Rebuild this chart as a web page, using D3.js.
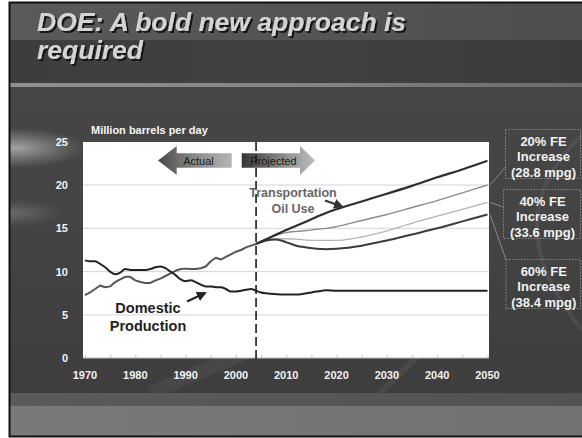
<!DOCTYPE html>
<html>
<head>
<meta charset="utf-8">
<script src="https://cdn.jsdelivr.net/npm/d3@7"></script>
<style>
  html, body { margin: 0; padding: 0; background: #ffffff; }
  svg { display: block; }
  text { font-family: "Liberation Sans", Arial, Helvetica, sans-serif; }
</style>
</head>
<body>
<svg id="chart" width="582" height="438"></svg>
<script>
// ---------------- DATA ----------------
const titleLines = ["DOE: A bold new approach is", "required"];
const unitLabel = "Million barrels per day";
const yTicks = [0, 5, 10, 15, 20, 25];
const xTicks = [1970, 1980, 1990, 2000, 2010, 2020, 2030, 2040, 2050];
const minorXTicks = [1975, 1985, 1995, 2005, 2015, 2025, 2035, 2045];
const dividerYear = 2004;

const domesticYears = [1970,1971,1972,1973,1974,1975,1976,1977,1978,1979,1980,1981,1982,1983,1984,1985,1986,1987,1988,1989,1990,1991,1992,1993,1994,1995,1996,1997,1998,1999,2000,2001,2002,2003,2004,2005,2006,2008,2010,2012,2014,2016,2018,2020,2025,2030,2040,2050];
const domesticValues = [11.3,11.2,11.2,10.9,10.5,10.0,9.7,9.9,10.3,10.2,10.2,10.2,10.2,10.3,10.5,10.6,10.4,10.0,9.6,9.1,8.9,9.0,8.8,8.5,8.3,8.3,8.2,8.2,8.0,7.7,7.7,7.8,7.9,8.0,7.8,7.6,7.5,7.4,7.35,7.35,7.5,7.7,7.85,7.8,7.8,7.8,7.8,7.8];

const transHistYears = [1970,1971,1972,1973,1974,1975,1976,1977,1978,1979,1980,1981,1982,1983,1984,1985,1986,1987,1988,1989,1990,1991,1992,1993,1994,1995,1996,1997,1998,1999,2000,2001,2002,2003,2004];
const transHistValues = [7.3,7.6,8.0,8.4,8.2,8.3,8.8,9.1,9.4,9.4,9.0,8.8,8.7,8.7,9.0,9.2,9.5,9.8,10.1,10.3,10.35,10.3,10.3,10.4,10.6,11.2,11.6,11.4,11.7,12.0,12.3,12.5,12.8,13.0,13.2];

const projYears = [2004,2006,2008,2010,2012,2014,2016,2018,2020,2025,2030,2035,2040,2045,2050];
const projBaseValues = [13.2,13.7,14.3,14.8,15.3,15.8,16.3,16.8,17.2,18.1,19.0,19.9,20.9,21.8,22.8];
const proj20Values   = [13.2,13.8,14.2,14.5,14.65,14.75,14.9,15.0,15.2,15.9,16.6,17.4,18.2,19.1,20.0];
const proj40Values   = [13.2,13.6,13.8,13.8,13.75,13.65,13.6,13.6,13.6,14.0,14.7,15.6,16.4,17.2,18.0];
const proj60Values   = [13.2,13.6,13.7,13.4,13.0,12.8,12.65,12.6,12.65,13.0,13.6,14.3,15.0,15.8,16.6];

const boxLabels = [
  ["20% FE", "Increase", "(28.8 mpg)"],
  ["40% FE", "Increase", "(33.6 mpg)"],
  ["60% FE", "Increase", "(38.4 mpg)"]
];
const arrowLabels = ["Actual", "Projected"];
const transLabel = ["Transportation", "Oil Use"];
const domesticLabel = ["Domestic", "Production"];

// ---------------- LAYOUT ----------------
const svg = d3.select("#chart");
const plot = {left: 83, right: 489, top: 142, bottom: 358};
const x = d3.scaleLinear().domain([1970, 2050]).range([85, 487.5]);
const y = d3.scaleLinear().domain([0, 25]).range([358.3, 141.7]);

const defs = svg.append("defs");

function linGrad(id, x1, y1, x2, y2, stops) {
  const g = defs.append("linearGradient").attr("id", id)
    .attr("x1", x1).attr("y1", y1).attr("x2", x2).attr("y2", y2);
  stops.forEach(s => g.append("stop").attr("offset", s[0]).attr("stop-color", s[1]).attr("stop-opacity", s[2] === undefined ? 1 : s[2]));
}
function radGrad(id, stops) {
  const g = defs.append("radialGradient").attr("id", id);
  stops.forEach(s => g.append("stop").attr("offset", s[0]).attr("stop-color", s[1]).attr("stop-opacity", s[2]));
}

linGrad("topBand", "0", "0", "1", "0", [[0, "#5a5a5a"], [0.6, "#535353"], [1, "#4e4e4e"]]);
linGrad("titleBand", "0", "0", "1", "0", [[0, "#3d3d3d"], [0.5, "#414141"], [1, "#3b3b3b"]]);
linGrad("stripe", "0", "0", "1", "0", [[0, "#8f8f8f"], [0.5, "#858585"], [1, "#6a6a6a"]]);
linGrad("mainBg", "0", "0", "0", "1", [[0, "#474747"], [0.5, "#444444"], [1, "#3c3c3c"]]);
linGrad("band1", "0", "0", "1", "0", [[0, "#5b5b5b"], [1, "#525252"]]);
linGrad("band2", "0", "0", "1", "0", [[0, "#797979"], [1, "#727272"]]);
linGrad("actualArrow", "0", "0", "1", "0", [[0, "#4a4a4a"], [0.5, "#8a8a8a"], [1, "#b5b5b5"]]);
linGrad("projArrow", "0", "0", "1", "0", [[0, "#353535"], [0.55, "#8a8a8a"], [1, "#bdbdbd"]]);
radGrad("glow", [[0, "#ffffff", 0.5], [0.6, "#ffffff", 0.18], [1, "#ffffff", 0]]);

const shadow = defs.append("filter").attr("id", "tshadow").attr("x", "-5%").attr("y", "-20%").attr("width", "115%").attr("height", "160%");
shadow.append("feDropShadow").attr("dx", 2).attr("dy", 2).attr("stdDeviation", 0.6).attr("flood-color", "#151515").attr("flood-opacity", 1);

// slide background
svg.append("rect").attr("x", 9).attr("y", 2).attr("width", 573).attr("height", 434).attr("fill", "url(#mainBg)");
svg.append("rect").attr("x", 9).attr("y", 2).attr("width", 573).attr("height", 38).attr("fill", "url(#topBand)");
svg.append("rect").attr("x", 9).attr("y", 40).attr("width", 573).attr("height", 43).attr("fill", "url(#titleBand)");
svg.append("rect").attr("x", 9).attr("y", 83).attr("width", 573).attr("height", 4).attr("fill", "url(#stripe)");
// left glows
svg.append("ellipse").attr("cx", 15).attr("cy", 148).attr("rx", 70).attr("ry", 20).attr("fill", "url(#glow)");
svg.append("ellipse").attr("cx", 10).attr("cy", 213).attr("rx", 55).attr("ry", 14).attr("fill", "url(#glow)").attr("opacity", 0.4);
// faint right swoosh
svg.append("path").attr("d", "M582,135 Q492,220 582,330").attr("fill", "none").attr("stroke", "#ffffff").attr("stroke-opacity", 0.06).attr("stroke-width", 4);
// faint bottom streaks
svg.append("path").attr("d", "M150,393 L300,330").attr("stroke", "#ffffff").attr("stroke-opacity", 0.05).attr("stroke-width", 14);
svg.append("path").attr("d", "M380,393 L445,330").attr("stroke", "#ffffff").attr("stroke-opacity", 0.06).attr("stroke-width", 6);
// bottom bands
svg.append("rect").attr("x", 9).attr("y", 393).attr("width", 573).attr("height", 13).attr("fill", "url(#band1)");
svg.append("rect").attr("x", 9).attr("y", 406).attr("width", 573).attr("height", 30).attr("fill", "url(#band2)");
// frame
svg.append("path").attr("d", "M582,2.5 L9.5,2.5 L9.5,436.5 L582,436.5").attr("fill", "none").attr("stroke", "#111").attr("stroke-width", 2);

// title with drop shadow
const titleG = svg.append("g").attr("font-size", 26.5).attr("font-weight", "bold").attr("font-style", "italic").attr("filter", "url(#tshadow)");
titleLines.forEach((t, i) => {
  titleG.append("text").attr("x", 37).attr("y", 31 + i * 28).attr("fill", "#d4d4d4").text(t);
});

// plot area
svg.append("rect").attr("x", plot.left).attr("y", plot.top).attr("width", plot.right - plot.left).attr("height", plot.bottom - plot.top).attr("fill", "#ffffff");

// gridlines
svg.append("g").selectAll("line").data(yTicks.filter(d => d > 0 && d < 25)).join("line")
  .attr("x1", plot.left).attr("x2", plot.right)
  .attr("y1", d => y(d)).attr("y2", d => y(d))
  .attr("stroke", "#d4d4d4").attr("stroke-width", 1);

// x axis line + ticks
const xAxisG = svg.append("g").attr("transform", `translate(0,${plot.bottom})`)
  .call(d3.axisBottom(x).tickValues(xTicks.concat(minorXTicks)).tickSize(-3).tickFormat(""));
xAxisG.select(".domain").attr("stroke", "#bbbbbb").attr("d", `M${plot.left},0H${plot.right}`);
xAxisG.selectAll(".tick line").attr("stroke", "#c0c0c0");

// tick labels
svg.append("g").selectAll("text").data(xTicks).join("text")
  .attr("x", d => x(d)).attr("y", 379).attr("text-anchor", "middle")
  .attr("font-size", 11).attr("font-weight", "bold").attr("fill", "#f2f2f2").text(d => d);
svg.append("g").selectAll("text").data(yTicks).join("text")
  .attr("x", 68).attr("y", d => y(d) + 4).attr("text-anchor", "end")
  .attr("font-size", 11).attr("font-weight", "bold").attr("fill", "#f2f2f2").text(d => d);

svg.append("text").attr("x", 91).attr("y", 134).attr("font-size", 11).attr("font-weight", "bold").attr("fill", "#f5f5f5").text(unitLabel);

// Actual / Projected arrows
const aTip = 158, aHead = 176.7, aEnd = 231.7, cy = 160.5;
svg.append("path").attr("d", `M${aTip},${cy} L${aHead},146 L${aHead},153.3 L${aEnd},153.3 L${aEnd},167.7 L${aHead},167.7 L${aHead},175 Z`).attr("fill", "url(#actualArrow)");
const pStart = 241.7, pHead = 300, pTip = 315;
svg.append("path").attr("d", `M${pStart},153.3 L${pHead},153.3 L${pHead},146 L${pTip},${cy} L${pHead},175 L${pHead},167.7 L${pStart},167.7 Z`).attr("fill", "url(#projArrow)");
svg.append("text").attr("x", 198.5).attr("y", 164.5).attr("text-anchor", "middle").attr("font-size", 11).attr("fill", "#1a1a1a").text(arrowLabels[0]);
svg.append("text").attr("x", 273.5).attr("y", 164.5).attr("text-anchor", "middle").attr("font-size", 11).attr("fill", "#1a1a1a").text(arrowLabels[1]);

// divider dashed line
svg.append("line").attr("x1", x(dividerYear)).attr("x2", x(dividerYear)).attr("y1", plot.top).attr("y2", 363)
  .attr("stroke", "#1a1a1a").attr("stroke-width", 1.6).attr("stroke-dasharray", "9,4");

// series lines
const lineLinear = d3.line().x(d => x(d[0])).y(d => y(d[1]));
const lineSmooth = d3.line().x(d => x(d[0])).y(d => y(d[1])).curve(d3.curveMonotoneX);
const zip = (a, b) => a.map((v, i) => [v, b[i]]);

svg.append("path").datum(zip(projYears, proj20Values)).attr("d", lineSmooth).attr("fill", "none").attr("stroke", "#8c8c8c").attr("stroke-width", 1.4);
svg.append("path").datum(zip(projYears, proj40Values)).attr("d", lineSmooth).attr("fill", "none").attr("stroke", "#b4b4b4").attr("stroke-width", 1.3);
svg.append("path").datum(zip(projYears, proj60Values)).attr("d", lineSmooth).attr("fill", "none").attr("stroke", "#3c3c3c").attr("stroke-width", 2);
svg.append("path").datum(zip(projYears, projBaseValues)).attr("d", lineSmooth).attr("fill", "none").attr("stroke", "#2e2e2e").attr("stroke-width", 2.2);
svg.append("path").datum(zip(transHistYears, transHistValues)).attr("d", lineLinear).attr("fill", "none").attr("stroke", "#555555").attr("stroke-width", 2).attr("stroke-linejoin", "round");
svg.append("path").datum(zip(domesticYears, domesticValues)).attr("d", lineSmooth).attr("fill", "none").attr("stroke", "#222222").attr("stroke-width", 2).attr("stroke-linejoin", "round");

// annotations
defs.append("marker").attr("id", "ah").attr("viewBox", "0 0 10 10").attr("refX", 8).attr("refY", 5)
  .attr("markerWidth", 5).attr("markerHeight", 5).attr("orient", "auto")
  .append("path").attr("d", "M0,0 L10,5 L0,10 Z").attr("fill", "#333");
defs.append("marker").attr("id", "ah2").attr("viewBox", "0 0 10 10").attr("refX", 8).attr("refY", 5)
  .attr("markerWidth", 5).attr("markerHeight", 5).attr("orient", "auto")
  .append("path").attr("d", "M0,0 L10,5 L0,10 Z").attr("fill", "#222");

svg.append("text").attr("x", 293).attr("y", 197).attr("text-anchor", "middle").attr("font-size", 12.5).attr("font-weight", "bold").attr("fill", "#666").text(transLabel[0]);
svg.append("text").attr("x", 293).attr("y", 213).attr("text-anchor", "middle").attr("font-size", 12.5).attr("font-weight", "bold").attr("fill", "#666").text(transLabel[1]);
svg.append("line").attr("x1", 325).attr("y1", 200.5).attr("x2", 342).attr("y2", 206.5).attr("stroke", "#333").attr("stroke-width", 2).attr("marker-end", "url(#ah)");

svg.append("text").attr("x", 148).attr("y", 313).attr("text-anchor", "middle").attr("font-size", 14.5).attr("font-weight", "bold").attr("fill", "#222").text(domesticLabel[0]);
svg.append("text").attr("x", 148).attr("y", 331).attr("text-anchor", "middle").attr("font-size", 14.5).attr("font-weight", "bold").attr("fill", "#222").text(domesticLabel[1]);
svg.append("line").attr("x1", 187).attr("y1", 301.5).attr("x2", 205).attr("y2", 293).attr("stroke", "#222").attr("stroke-width", 2).attr("marker-end", "url(#ah2)");

// right boxes
const boxes = [
  {x: 505.5, y: 129.5, endVal: proj20Values[proj20Values.length - 1], ax: 505.5, ay: 167},
  {x: 503.5, y: 189.5, endVal: proj40Values[proj40Values.length - 1], ax: 503.5, ay: 207},
  {x: 506, y: 259.5, endVal: proj60Values[proj60Values.length - 1], ax: 506, ay: 260}
];
boxes.forEach((b, i) => {
  svg.append("line").attr("x1", b.ax).attr("y1", b.ay).attr("x2", 490).attr("y2", y(b.endVal))
    .attr("stroke", "#9a9a9a").attr("stroke-width", 0.8);
  svg.append("rect").attr("x", b.x).attr("y", b.y).attr("width", 580.5 - b.x).attr("height", 49)
    .attr("fill", "none").attr("stroke", "#9a9a9a").attr("stroke-width", 0.8).attr("stroke-dasharray", "1.5,1.5");
  boxLabels[i].forEach((t, j) => {
    svg.append("text").attr("x", (b.x + 580.5) / 2 + 0.5).attr("y", b.y + 16 + j * 15.5).attr("text-anchor", "middle")
      .attr("font-size", 13).attr("font-weight", "bold").attr("fill", "#f2f2f2").text(t);
  });
});
</script>
</body>
</html>
